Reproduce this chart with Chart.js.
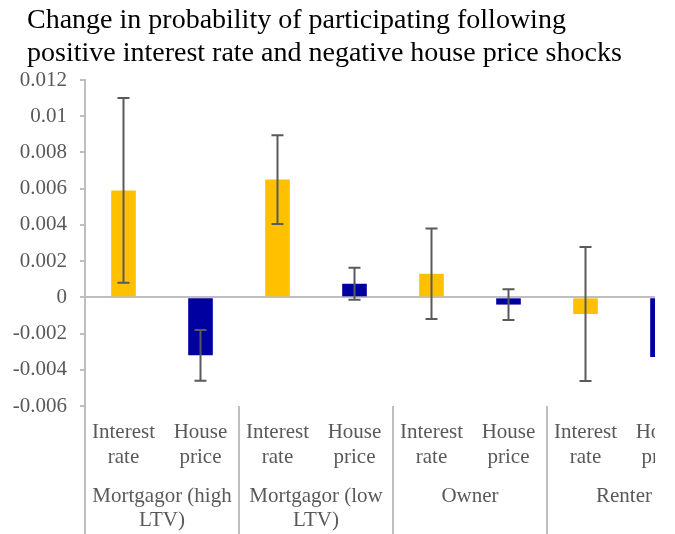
<!DOCTYPE html>
<html>
<head>
<meta charset="utf-8">
<title>Change in probability of participating</title>
<script src="https://cdn.jsdelivr.net/npm/chart.js@4.4.1/dist/chart.umd.min.js"></script>
<style>
  html, body { margin: 0; padding: 0; background: #ffffff; }
  #frame { position: absolute; left: 0; top: 0; width: 655px; height: 534px; overflow: hidden; }
  #chart { display: block; }
</style>
</head>
<body>
<div id="frame"><canvas id="chart" width="720" height="534"></canvas></div>
<script>
// Household groups and the two shocks applied to each
const groups = [
  ['Mortgagor (high', 'LTV)'],
  ['Mortgagor (low', 'LTV)'],
  ['Owner'],
  ['Renter']
];
const shocks = [
  ['Interest', 'rate'],
  ['House', 'price']
];

// Change in participation probability (group by group, interest rate then house price)
const change = [0.0059, -0.0032, 0.0065, 0.00075, 0.0013, -0.0004, -0.00092, -0.0033];
// Half-width of the confidence interval around each estimate
const errorMargin = [0.0051, 0.0014, 0.00245, 0.00088, 0.0025, 0.00085, 0.0037, 0.0020];

// Y axis ticks
const yTicks = { min: -0.006, max: 0.012, step: 0.002 };

const titleLines = [
  'Change in probability of participating following',
  'positive interest rate and negative house price shocks'
];

const SERIF = '"Liberation Serif", "Times New Roman", serif';
const TEXT_GREY = '#595959';
const AXIS_GREY = '#BFBFBF';
const YELLOW = '#FFC000';
const BLUE = '#0000A0';

// One category per (group, shock) pair
const categories = [];
groups.forEach(g => shocks.forEach(s => categories.push(s.join(' ') + ' | ' + g.join(' '))));
const barColors = categories.map((_, i) => (i % 2 === 0 ? YELLOW : BLUE));

const titlePlugin = {
  id: 'chartTitle',
  afterDraw(chart) {
    const ctx = chart.ctx;
    ctx.save();
    ctx.fillStyle = '#000000';
    ctx.font = '28px ' + SERIF;
    ctx.textAlign = 'left';
    ctx.textBaseline = 'alphabetic';
    ctx.fillText(titleLines[0], 27, 28);
    ctx.fillText(titleLines[1], 27, 61);
    ctx.restore();
  }
};

const errorBarPlugin = {
  id: 'errorBars',
  afterDatasetsDraw(chart) {
    const ctx = chart.ctx;
    const y = chart.scales.y;
    const meta = chart.getDatasetMeta(0);
    ctx.save();
    ctx.strokeStyle = '#5A5A5A';
    ctx.lineWidth = 2;
    meta.data.forEach((bar, i) => {
      const v = change[i], e = errorMargin[i];
      const yTop = y.getPixelForValue(v + e);
      const yBot = y.getPixelForValue(v - e);
      const x = bar.x;
      ctx.beginPath();
      ctx.moveTo(x, yTop); ctx.lineTo(x, yBot);
      ctx.moveTo(x - 6, yTop); ctx.lineTo(x + 6, yTop);
      ctx.moveTo(x - 6, yBot); ctx.lineTo(x + 6, yBot);
      ctx.stroke();
    });
    ctx.restore();
  }
};

const categoryAxisPlugin = {
  id: 'groupedCategoryAxis',
  afterDraw(chart) {
    const ctx = chart.ctx;
    const x = chart.scales.x;
    const area = chart.chartArea;
    const step = x.getPixelForValue(1) - x.getPixelForValue(0);
    ctx.save();

    // separators between groups
    ctx.strokeStyle = AXIS_GREY;
    ctx.lineWidth = 2;
    for (let g = 0; g <= groups.length; g++) {
      const px = x.getPixelForValue(g * shocks.length) - step / 2;
      ctx.beginPath();
      ctx.moveTo(px, area.bottom);
      ctx.lineTo(px, chart.height);
      ctx.stroke();
    }

    ctx.fillStyle = TEXT_GREY;
    ctx.font = '21px ' + SERIF;
    ctx.textAlign = 'center';
    ctx.textBaseline = 'alphabetic';

    // shock labels under each bar
    categories.forEach((_, i) => {
      const px = x.getPixelForValue(i);
      const lines = shocks[i % shocks.length];
      lines.forEach((t, k) => ctx.fillText(t, px, area.bottom + 32 + k * 25));
    });

    // group labels under each pair
    groups.forEach((lines, g) => {
      const px = (x.getPixelForValue(g * 2) + x.getPixelForValue(g * 2 + 1)) / 2;
      lines.forEach((t, k) => ctx.fillText(t, px, area.bottom + 96 + k * 24));
    });
    ctx.restore();
  }
};

new Chart(document.getElementById('chart'), {
  type: 'bar',
  data: {
    labels: categories,
    datasets: [{
      data: change,
      backgroundColor: barColors,
      borderWidth: 0,
      barPercentage: 0.32,
      categoryPercentage: 1.0
    }]
  },
  options: {
    responsive: false,
    animation: false,
    devicePixelRatio: 1,
    layout: { padding: { top: 80, bottom: 128, left: 0, right: 19 } },
    plugins: {
      legend: { display: false },
      title: { display: false },
      tooltip: { enabled: false }
    },
    scales: {
      x: {
        display: false,
        grid: { display: false }
      },
      y: {
        min: yTicks.min,
        max: yTicks.max,
        afterFit(scale) { scale.width = 85; },
        ticks: {
          stepSize: yTicks.step,
          color: TEXT_GREY,
          padding: 13,
          font: { family: SERIF, size: 21 },
          callback: v => String(Number(Number(v).toFixed(3)))
        },
        grid: {
          drawOnChartArea: true,
          drawTicks: true,
          tickLength: 5,
          lineWidth: 2,
          tickColor: AXIS_GREY,
          color: c => (c.tick && Math.abs(c.tick.value) < 1e-9 ? AXIS_GREY : 'rgba(0,0,0,0)')
        },
        border: { display: true, color: AXIS_GREY, width: 2 }
      }
    }
  },
  plugins: [titlePlugin, errorBarPlugin, categoryAxisPlugin]
});
</script>
</body>
</html>
